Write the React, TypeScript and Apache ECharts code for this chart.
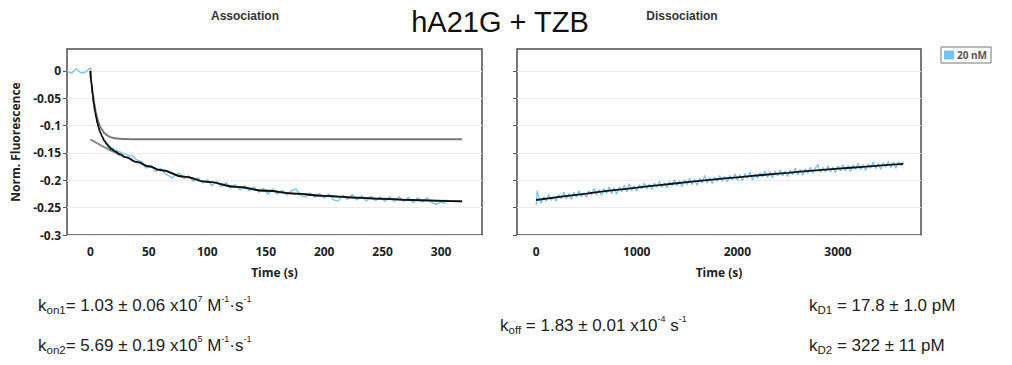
import React, { useEffect, useRef } from "react";
import * as echarts from "echarts";

// ---------- Association panel ----------
const assocTime = [
  -20, -18, -16, -14, -12, -10, -8, -6, -4, -2, 0, 1, 2, 3, 4, 5, 6, 7, 8, 10, 12, 14, 16, 18, 20,
  22, 24, 26, 28, 30, 32, 34, 36, 38, 40, 44, 48, 52, 56, 60, 64, 68, 70, 72, 76, 80, 84, 88, 92, 96,
  100, 104, 108, 112, 116, 120, 124, 128, 132, 136, 140, 144, 148, 152, 156, 160, 164, 168, 172, 176,
  180, 184, 188, 192, 196, 200, 204, 208, 212, 216, 220, 224, 228, 232, 236, 240, 244, 248, 252, 256,
  260, 264, 268, 272, 276, 280, 284, 288, 292, 296, 300, 304,
];
const assocSignal = [
  0.0, -0.003, -0.004, 0.0, 0.004, 0.0, -0.004, -0.003, -0.002, 0.002, 0.006, -0.02, -0.044, -0.06,
  -0.074, -0.086, -0.095, -0.103, -0.11, -0.12, -0.127, -0.132, -0.136, -0.14, -0.143,
  -0.145, -0.147, -0.149, -0.152, -0.152, -0.154, -0.156, -0.155, -0.16, -0.163, -0.166, -0.178, -0.173,
  -0.184, -0.178, -0.188, -0.193, -0.196, -0.191, -0.187, -0.197, -0.192, -0.202, -0.195, -0.205,
  -0.199, -0.21, -0.202, -0.212, -0.204, -0.214, -0.208, -0.218, -0.21, -0.219, -0.212, -0.222,
  -0.215, -0.225, -0.216, -0.225, -0.218, -0.227, -0.219, -0.216,
  -0.228, -0.231, -0.223, -0.231, -0.224, -0.233, -0.225, -0.236, -0.238, -0.227, -0.235, -0.226,
  -0.236, -0.228, -0.238, -0.229, -0.237, -0.23, -0.239, -0.23,
  -0.239, -0.23, -0.239, -0.231, -0.241, -0.232, -0.24, -0.232, -0.241, -0.244, -0.24, -0.242,
];
const assocFitTime = [
  0, 1, 2, 3, 4, 5, 6, 7, 8, 9, 10, 12, 14, 16, 18, 21, 25, 30, 40, 50, 60, 80, 100, 125, 150, 175,
  200, 225, 250, 275, 300, 318,
];
const assocFitTotal = [
  0, -0.024, -0.044, -0.06, -0.074, -0.085, -0.095, -0.103, -0.11, -0.115, -0.12, -0.128, -0.134,
  -0.139, -0.143, -0.147, -0.152, -0.1575, -0.1667, -0.1744, -0.1815, -0.1933, -0.2028, -0.2121,
  -0.2191, -0.2244, -0.2285, -0.2315, -0.2338, -0.236, -0.2375, -0.2385,
];
const assocFitFast = [
  0, -0.0227, -0.0412, -0.0564, -0.0689, -0.079, -0.0874, -0.0942, -0.0998, -0.1043, -0.1081,
  -0.1137, -0.1174, -0.1199, -0.1216, -0.1231, -0.1242, -0.1247, -0.125, -0.125, -0.125, -0.125,
  -0.125, -0.125, -0.125, -0.125, -0.125, -0.125, -0.125, -0.125, -0.125, -0.125,
];
const assocFitSlow = [
  -0.125, -0.1263, -0.1276, -0.1288, -0.13, -0.1313, -0.1325, -0.1337, -0.1349, -0.136, -0.1372,
  -0.1395, -0.1417, -0.1439, -0.146, -0.1491, -0.1532, -0.1578, -0.1667, -0.1744, -0.1815, -0.1933,
  -0.2028, -0.2121, -0.2191, -0.2244, -0.2285, -0.2315, -0.2338, -0.236, -0.2375, -0.2385,
];

// ---------- Dissociation panel ----------
const dissTime = [
  0, 10, 25, 50, 75, 100, 125, 150, 175, 200, 225, 250, 275, 300, 325, 350, 375, 400, 425, 450, 475,
  500, 525, 550, 575, 600, 625, 650, 675, 700, 725, 750, 775, 800, 825, 850, 875, 900, 925, 950, 975,
  1000, 1025, 1050, 1075, 1100, 1125, 1150, 1175, 1200, 1225, 1250, 1275, 1300, 1325, 1350, 1375,
  1400, 1425, 1450, 1475, 1500, 1525, 1550, 1575, 1600, 1625, 1650, 1675, 1700, 1725, 1750, 1775,
  1800, 1825, 1850, 1875, 1900, 1925, 1950, 1975, 2000, 2025, 2050, 2075, 2100, 2125, 2150, 2175,
  2200, 2225, 2250, 2275, 2300, 2325, 2350, 2375, 2400, 2425, 2450, 2475, 2500, 2525, 2550, 2575,
  2600, 2625, 2650, 2675, 2700, 2725, 2750, 2775, 2800, 2825, 2850, 2875, 2900, 2925, 2950, 2975,
  3000, 3025, 3050, 3075, 3100, 3125, 3150, 3175, 3200, 3225, 3250, 3275, 3300, 3325, 3350, 3375,
  3400, 3425, 3450, 3475, 3500, 3525, 3550, 3575, 3600, 3625, 3650,
];
const dissSignal = [
  -0.246, -0.219, -0.23, -0.242, -0.23, -0.238, -0.226, -0.237, -0.23, -0.238, -0.226, -0.234,
  -0.222, -0.234, -0.224, -0.235, -0.222, -0.231, -0.219, -0.23, -0.223,
  -0.231, -0.219, -0.227, -0.215, -0.227, -0.217, -0.228, -0.215, -0.224, -0.212, -0.224, -0.214,
  -0.225, -0.212, -0.221, -0.209, -0.221, -0.206, -0.219, -0.21,
  -0.22, -0.208, -0.216, -0.205, -0.216, -0.207, -0.217, -0.205, -0.213, -0.202, -0.213, -0.204,
  -0.214, -0.202, -0.21, -0.199,
  -0.21, -0.201, -0.212, -0.199, -0.208, -0.196, -0.208, -0.198, -0.209, -0.196, -0.205, -0.191,
  -0.205, -0.195, -0.206, -0.194,
  -0.202, -0.191, -0.202, -0.193, -0.203, -0.191, -0.199, -0.188, -0.2, -0.19, -0.201, -0.188,
  -0.197, -0.185, -0.2, -0.188,
  -0.196, -0.186, -0.194, -0.183, -0.195, -0.185, -0.196, -0.183, -0.192, -0.181, -0.192, -0.183,
  -0.193, -0.181, -0.19, -0.178,
  -0.19, -0.18, -0.191, -0.179, -0.187, -0.176, -0.187, -0.178, -0.171, -0.186, -0.176, -0.185,
  -0.173, -0.185, -0.176, -0.186,
  -0.174, -0.183, -0.171, -0.183, -0.173, -0.184, -0.172, -0.18, -0.169, -0.181, -0.171, -0.182,
  -0.17, -0.178, -0.166, -0.179,
  -0.169, -0.18, -0.168, -0.176, -0.165, -0.177, -0.167, -0.178, -0.166, -0.174, -0.166,
];
const dissFitTime = [0, 250, 500, 750, 1000, 1250, 1500, 1750, 2000, 2250, 2500, 2750, 3000, 3250, 3500, 3650];
const dissFitValue = [
  -0.236, -0.2299, -0.2242, -0.2186, -0.2134, -0.2083, -0.2035, -0.1989, -0.1945, -0.1903, -0.1863,
  -0.1824, -0.1788, -0.1753, -0.1719, -0.17,
];

const assocTicks = [0, 50, 100, 150, 200, 250, 300];
const dissTicks = [0, 1000, 2000, 3000];
const yTicks = [-0.3, -0.25, -0.2, -0.15, -0.1, -0.05, 0];

const seriesName = "20 nM";
const chartTitle = "hA21G + TZB";
const panelTitles = ["Association", "Dissociation"];

const zip = (a: number[], b: number[]) => a.map((t, i) => [t, b[i]]);

const BLUE = "#72c4ee";
const TICK_FONT = "Open Sans";

export default function App() {
  const ref = useRef<HTMLDivElement>(null);

  useEffect(() => {
    if (!ref.current) return;
    const chart = echarts.init(ref.current, null, { renderer: "svg" });

    const labelStyle = {
      fontFamily: TICK_FONT,
      fontWeight: "bold" as const,
      fontSize: 12,
      color: "#222",
    };
    const yAxisBase = (gridIndex: number, showLabels: boolean) => ({
      type: "value" as const,
      gridIndex,
      min: -0.3,
      max: 0.04,
      interval: 0.05,
      axisLine: { show: false, onZero: false },
      axisTick: {
        show: true,
        length: 4,
        customValues: yTicks,
        lineStyle: { color: "#555", width: 1 },
      },
      splitLine: { show: true, lineStyle: { color: "#ececec", width: 1 } },
      axisLabel: {
        show: showLabels,
        customValues: yTicks,
        margin: 6,
        ...labelStyle,
        formatter: (v: number) => String(+v.toFixed(2)),
      },
      ...(showLabels
        ? {
            name: "Norm. Fluorescence",
            nameLocation: "middle" as const,
            nameGap: 46,
            nameRotate: 90,
            nameTextStyle: { ...labelStyle },
          }
        : {}),
    });
    const xAxisBase = (gridIndex: number, min: number, max: number, ticks: number[]) => ({
      type: "value" as const,
      gridIndex,
      min,
      max,
      axisLine: { show: false, onZero: false },
      axisTick: { show: false },
      splitLine: { show: false },
      axisLabel: {
        customValues: ticks,
        margin: 10,
        ...labelStyle,
        formatter: (v: number) => String(v),
      },
      name: "Time (s)",
      nameLocation: "middle" as const,
      nameGap: 31,
      nameTextStyle: { ...labelStyle },
    });

    const textEl = (x: number, y: number, text: string, rich?: any) => ({
      type: "text",
      x,
      y,
      style: {
        text,
        fontFamily: "Liberation Sans",
        fontSize: 17,
        fill: "#222",
        align: "left",
        verticalAlign: "middle",
        rich,
      },
    });
    const rich = {
      n: { fontFamily: "Liberation Sans", fontSize: 17, lineHeight: 21, color: "#222" },
      sub: { fontFamily: "Liberation Sans", fontSize: 11.5, lineHeight: 13, verticalAlign: "bottom", color: "#222" },
      sup: { fontFamily: "Liberation Sans", fontSize: 9, lineHeight: 12, verticalAlign: "top", color: "#222" },
    };

    chart.setOption({
      animation: false,
      grid: [
        { left: 67, top: 49, width: 415, height: 186, show: true, borderColor: "#4d4d4d", borderWidth: 1.5, backgroundColor: "#fff" },
        { left: 517, top: 49, width: 404, height: 186, show: true, borderColor: "#4d4d4d", borderWidth: 1.5, backgroundColor: "#fff" },
      ],
      xAxis: [xAxisBase(0, -20, 335, assocTicks), xAxisBase(1, -190, 3825, dissTicks)],
      yAxis: [yAxisBase(0, true), yAxisBase(1, false)],
      legend: {
        data: [seriesName],
        left: 941,
        top: 47,
        icon: "rect",
        itemWidth: 10,
        itemHeight: 9,
        itemGap: 4,
        padding: [3, 4, 3, 3],
        borderColor: "#777",
        borderWidth: 1,
        textStyle: { fontFamily: TICK_FONT, fontSize: 10, fontWeight: "bold", color: "#555", padding: [0, 0, 0, -2] },
      },
      series: [
        {
          name: seriesName,
          type: "line",
          xAxisIndex: 0,
          yAxisIndex: 0,
          showSymbol: false,
          color: BLUE,
          lineStyle: { color: BLUE, width: 1.3 },
          data: zip(assocTime, assocSignal),
          z: 2,
        },
        {
          name: "fast",
          type: "line",
          xAxisIndex: 0,
          yAxisIndex: 0,
          showSymbol: false,
          smooth: true,
          smoothMonotone: "x",
          lineStyle: { color: "#7a7a7a", width: 2 },
          data: zip(assocFitTime, assocFitFast),
          z: 3,
        },
        {
          name: "slow",
          type: "line",
          xAxisIndex: 0,
          yAxisIndex: 0,
          showSymbol: false,
          smooth: true,
          smoothMonotone: "x",
          lineStyle: { color: "#8a8a8a", width: 2 },
          data: zip(assocFitTime, assocFitSlow),
          z: 3,
        },
        {
          name: "fit",
          type: "line",
          xAxisIndex: 0,
          yAxisIndex: 0,
          showSymbol: false,
          smooth: true,
          smoothMonotone: "x",
          lineStyle: { color: "#111", width: 1.8 },
          data: zip(assocFitTime, assocFitTotal),
          z: 4,
        },
        {
          name: seriesName,
          type: "line",
          xAxisIndex: 1,
          yAxisIndex: 1,
          showSymbol: false,
          color: BLUE,
          lineStyle: { color: BLUE, width: 1.2 },
          data: zip(dissTime, dissSignal),
          z: 2,
        },
        {
          name: "dissFit",
          type: "line",
          xAxisIndex: 1,
          yAxisIndex: 1,
          showSymbol: false,
          smooth: true,
          lineStyle: { color: "#111", width: 1.8 },
          data: zip(dissFitTime, dissFitValue),
          z: 4,
        },
      ],
      graphic: [
        {
          type: "text",
          x: 500,
          y: 22,
          style: { text: chartTitle, fontFamily: "Liberation Sans", fontSize: 29, fill: "#111", align: "center", verticalAlign: "middle" },
        },
        {
          type: "text",
          x: 245,
          y: 16,
          style: { text: panelTitles[0], fontFamily: "Liberation Sans", fontWeight: "bold", fontSize: 12, fill: "#333", align: "center", verticalAlign: "middle" },
        },
        {
          type: "text",
          x: 682,
          y: 16,
          style: { text: panelTitles[1], fontFamily: "Liberation Sans", fontWeight: "bold", fontSize: 12, fill: "#333", align: "center", verticalAlign: "middle" },
        },
        textEl(38, 305, "{n|k}{sub|on1}{n|= 1.03 ± 0.06 x10}{sup|7}{n| M}{sup|-1}{n|·s}{sup|-1}", rich),
        textEl(38, 345, "{n|k}{sub|on2}{n|= 5.69 ± 0.19 x10}{sup|5}{n| M}{sup|-1}{n|·s}{sup|-1}", rich),
        textEl(500, 325, "{n|k}{sub|off}{n| = 1.83 ± 0.01 x10}{sup|-4}{n| s}{sup|-1}", rich),
        textEl(809, 305, "{n|k}{sub|D1}{n| = 17.8 ± 1.0 pM}", rich),
        textEl(809, 345, "{n|k}{sub|D2}{n| = 322 ± 11 pM}", rich),
      ],
    });

    return () => chart.dispose();
  }, []);

  return <div ref={ref} style={{ position: "absolute", left: 0, top: 0, width: 1012, height: 365 }} />;
}
